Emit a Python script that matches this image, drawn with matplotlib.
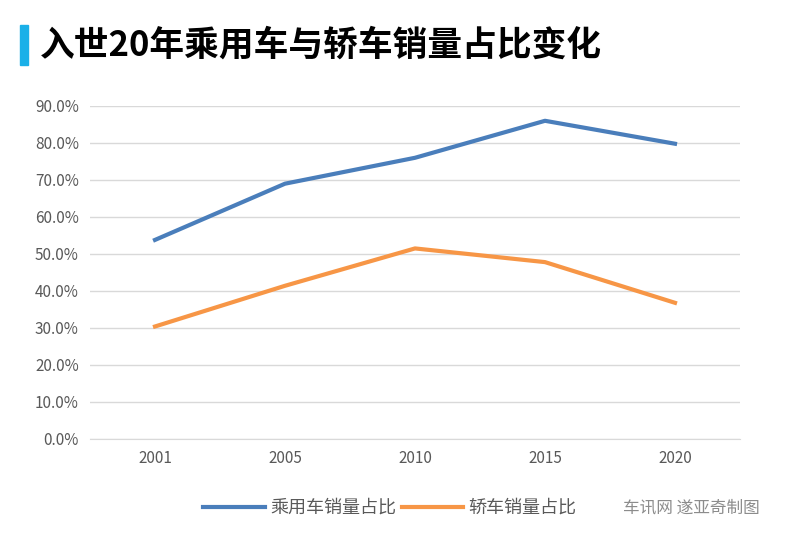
import matplotlib.pyplot as plt
from matplotlib.patches import Rectangle

plt.rcParams['font.family'] = ['Noto Sans CJK SC', 'DejaVu Sans']

years = ["2001", "2005", "2010", "2015", "2020"]
passenger_share = [53.8, 69.0, 76.0, 86.0, 79.8]
sedan_share = [30.4, 41.4, 51.5, 47.8, 36.8]

fig = plt.figure(figsize=(8, 5.34), dpi=100)
ax = fig.add_axes([0.1125, 0.178, 0.8125, 0.6235])

x = range(len(years))
ax.plot(x, passenger_share, color="#4a7ebb", lw=3, label="乘用车销量占比")
ax.plot(x, sedan_share, color="#f79646", lw=3, label="轿车销量占比")

ax.set_xlim(-0.5, len(years) - 0.5)
ax.set_ylim(0, 90)
ax.set_yticks(range(0, 91, 10))
ax.set_yticklabels([f"{v:.1f}%" for v in range(0, 91, 10)], color="#595959", fontsize=11)
ax.set_xticks(list(x))
ax.set_xticklabels(years, color="#595959", fontsize=11)
ax.tick_params(length=0, pad=8)
ax.grid(axis="y", color="#d9d9d9", lw=1)
ax.set_axisbelow(True)
for side in ["top", "right", "left"]:
    ax.spines[side].set_visible(False)
ax.spines["bottom"].set_color("#d9d9d9")

# title with accent bar
fig.patches.append(Rectangle((20 / 800, 1 - 65 / 534), 8 / 800, 40 / 534,
                             transform=fig.transFigure, color="#1ab0e8"))
fig.text(40 / 800, 1 - 45 / 534, "入世20年乘用车与轿车销量占比变化",
         fontsize=25, fontweight="bold", va="center", ha="left")

ax.legend(loc="center", bbox_to_anchor=(390 / 800, 1 - 508 / 534),
          bbox_transform=fig.transFigure, ncol=2, frameon=False,
          fontsize=13, handlelength=3.4, handletextpad=0.3,
          columnspacing=0.3, labelcolor="#595959")
fig.text(760 / 800, 1 - 508 / 534, "车讯网 遂亚奇制图", fontsize=12,
         color="#8c8c8c", ha="right", va="center")

fig.savefig("out.png", dpi=100)
